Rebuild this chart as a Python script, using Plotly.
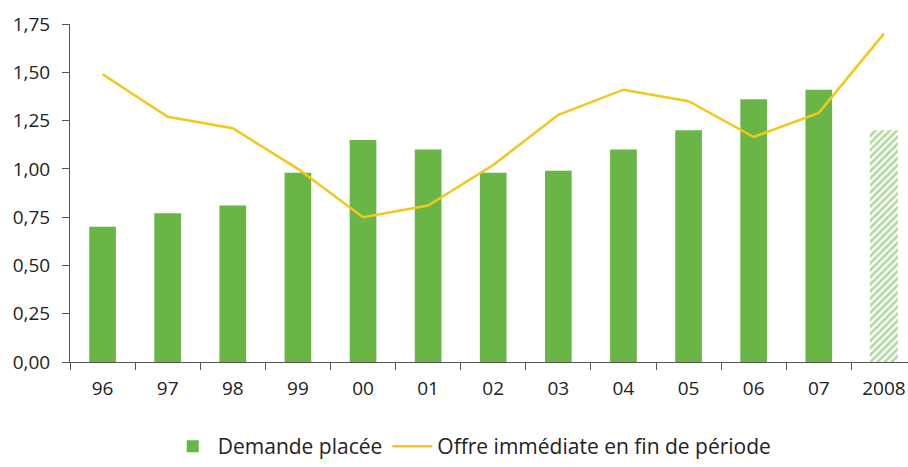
import plotly.graph_objects as go

categories = ["96", "97", "98", "99", "00", "01", "02", "03", "04", "05", "06", "07", "2008"]
demande = [0.70, 0.77, 0.81, 0.98, 1.15, 1.10, 0.98, 0.99, 1.10, 1.20, 1.36, 1.41, 1.20]
offre = [1.49, 1.27, 1.21, 1.00, 0.75, 0.81, 1.02, 1.28, 1.41, 1.35, 1.165, 1.29, 1.70]
yticks = [0, 0.25, 0.5, 0.75, 1.0, 1.25, 1.5, 1.75]

green = "#69b545"
yellow = "#f3c71b"
font = "'Open Sans', 'Noto Sans', sans-serif"

fig = go.Figure()
fig.add_trace(go.Bar(
    x=categories[:-1], y=demande[:-1], name="Demande placée",
    marker=dict(color=green, line=dict(width=0)), width=0.41,
))
fig.add_trace(go.Bar(
    x=categories[-1:], y=demande[-1:], name="Demande placée", showlegend=False,
    marker=dict(color="white", line=dict(width=0),
                pattern=dict(shape="/", fgcolor=green, bgcolor="white", size=5, solidity=0.55)),
    width=0.43,
))
fig.add_trace(go.Scatter(
    x=categories, y=offre, mode="lines", name="Offre immédiate en fin de période",
    line=dict(color=yellow, width=2.5),
))

fig.update_layout(
    width=908, height=467,
    margin=dict(l=70, r=0, t=24, b=105),
    paper_bgcolor="white", plot_bgcolor="white",
    separators=", ",
    barmode="overlay",
    font=dict(family=font, size=19, color="#222222"),
    legend=dict(orientation="h", x=0.48, xanchor="center", y=-0.312, yanchor="bottom",
                font=dict(size=21), itemwidth=40, traceorder="normal"),
    showlegend=True,
)
fig.update_xaxes(
    type="category", categoryorder="array", categoryarray=categories,
    range=[-0.5, 12.37],
    showline=True, linecolor="#555", linewidth=1,
    ticks="outside", tickson="boundaries", ticklen=7, tickcolor="#555",
    tickfont=dict(size=19), showgrid=False, zeroline=False,
    ticklabelstandoff=9,
)
fig.update_yaxes(
    range=[0, 1.75], tickvals=yticks, tickformat=".2f",
    showline=True, linecolor="#555", linewidth=1,
    ticks="outside", ticklen=7, tickcolor="#555",
    tickfont=dict(size=19), showgrid=False, zeroline=False,
    ticklabelstandoff=8,
)

fig.write_html("out.html")
